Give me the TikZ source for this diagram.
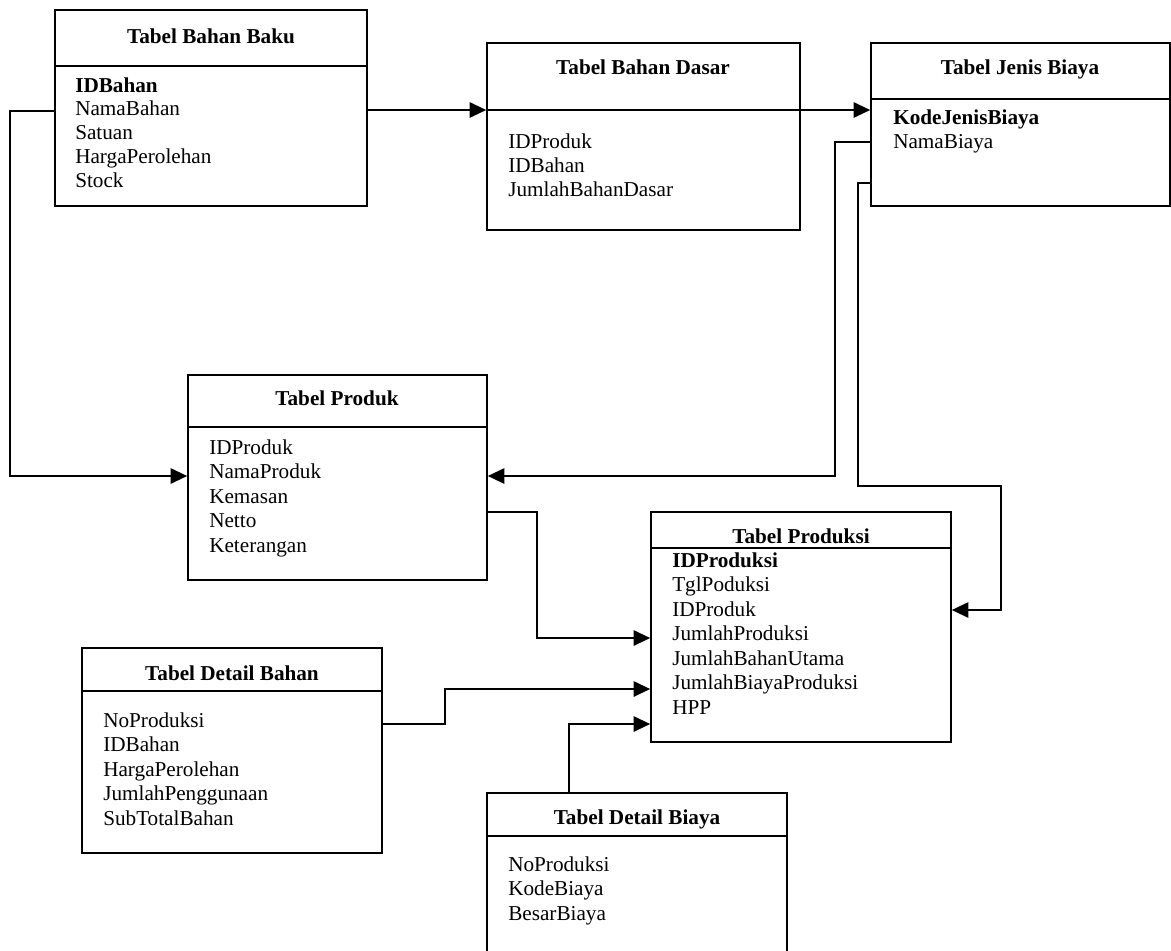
\documentclass[tikz,border=0pt]{standalone}
\usepackage{fontspec}
\setmainfont{Liberation Serif}
\usetikzlibrary{fit,arrows.meta}

% one drawing unit = one pixel of the 1171 x 950 sheet, y growing downward
\tikzset{
  x=0.75pt, y=-0.75pt,
  tbl/.style={draw, line width=1.2pt, inner sep=0pt},
  sep/.style={line width=1.2pt},
  head/.style={font=\fontsize{15.9}{18}\selectfont\bfseries, inner sep=0pt, anchor=base},
  row/.style={font=\fontsize{15.9}{18}\selectfont, inner sep=0pt, anchor=base west},
  arr/.style={line width=1.6pt, -{Triangle[length=12.5pt,width=11.5pt]}},
}

% rows of a table: name prefix, left x, first baseline, line step, entries
\newcommand\tblrows[5]{%
  \foreach \t [count=\i] in {#5}
    \node[row] (#1-\i) at (#2,{#3+(\i-1)*#4}) {\t};}

\begin{document}
\begin{tikzpicture}
\useasboundingbox (0,0) rectangle (1171,950);

% ---- Tabel Bahan Baku
\node[tbl, fit={(55,10) (367,206)}] (bb) {};
\draw[sep] (bb.west |- 0,66) -- (bb.east |- 0,66);
\node[head] (bb-t) at (211,43) {Tabel Bahan Baku};
\tblrows{bb}{75}{92}{23.8}{\textbf{IDBahan},NamaBahan,Satuan,HargaPerolehan,Stock}

% ---- Tabel Bahan Dasar
\node[tbl, fit={(487,43) (800,230)}] (bd) {};
\draw[sep] (bd.west |- 0,110) -- (bd.east |- 0,110);
\node[head] (bd-t) at (643,74) {Tabel Bahan Dasar};
\tblrows{bd}{508}{148}{24}{IDProduk,IDBahan,JumlahBahanDasar}

% ---- Tabel Jenis Biaya
\node[tbl, fit={(871,43) (1170,206)}] (jb) {};
\draw[sep] (jb.west |- 0,99) -- (jb.east |- 0,99);
\node[head] (jb-t) at (1020,74) {Tabel Jenis Biaya};
\tblrows{jb}{893}{124}{24}{\textbf{KodeJenisBiaya},NamaBiaya}

% ---- Tabel Produk
\node[tbl, fit={(188,375) (487,580)}] (pr) {};
\draw[sep] (pr.west |- 0,427) -- (pr.east |- 0,427);
\node[head] (pr-t) at (337,405) {Tabel Produk};
\tblrows{pr}{209}{454}{24.5}{IDProduk,NamaProduk,Kemasan,Netto,Keterangan}

% ---- Tabel Produksi
\node[tbl, fit={(651,512) (951,742)}] (ps) {};
\draw[sep] (ps.west |- 0,548) -- (ps.east |- 0,548);
\node[head] (ps-t) at (801,543) {Tabel Produksi};
\tblrows{ps}{672}{567}{24.5}{\textbf{IDProduksi},TglPoduksi,IDProduk,JumlahProduksi,JumlahBahanUtama,JumlahBiayaProduksi,HPP}

% ---- Tabel Detail Bahan
\node[tbl, fit={(82,648) (382,853)}] (db) {};
\draw[sep] (db.west |- 0,691) -- (db.east |- 0,691);
\node[head] (db-t) at (232,680) {Tabel Detail Bahan};
\tblrows{db}{103}{727}{24.5}{NoProduksi,IDBahan,HargaPerolehan,JumlahPenggunaan,SubTotalBahan}

% ---- Tabel Detail Biaya (runs past the lower edge of the sheet)
\node[tbl, fit={(487,793) (787,962)}] (dby) {};
\draw[sep] (dby.west |- 0,836) -- (dby.east |- 0,836);
\node[head] (dby-t) at (637,824) {Tabel Detail Biaya};
\tblrows{dby}{508}{871}{24.5}{NoProduksi,KodeBiaya,BesarBiaya}

% ---- relations
\draw[arr] (bb.east |- 0,110) -- (bd.west |- 0,110);
\draw[arr] (bd.east |- 0,110) -- (jb.west |- 0,110);
\draw[arr] (bb.west |- 0,111) -| (10,476) -- (pr.west |- 0,476);
\draw[arr] (jb.west |- 0,142) -| (835,476) -- (pr.east |- 0,476);
\draw[arr] (jb.west |- 0,183) -| (858,486) -| (1001,610) -- (ps.east |- 0,610);
\draw[arr] (pr.east |- 0,512) -| (537,638) -- (ps.west |- 0,638);
\draw[arr] (db.east |- 0,724) -| (445,689) -- (ps.west |- 0,689);
\draw[arr] (dby.north -| 569,0) |- (ps.west |- 0,724);
\end{tikzpicture}
\end{document}
